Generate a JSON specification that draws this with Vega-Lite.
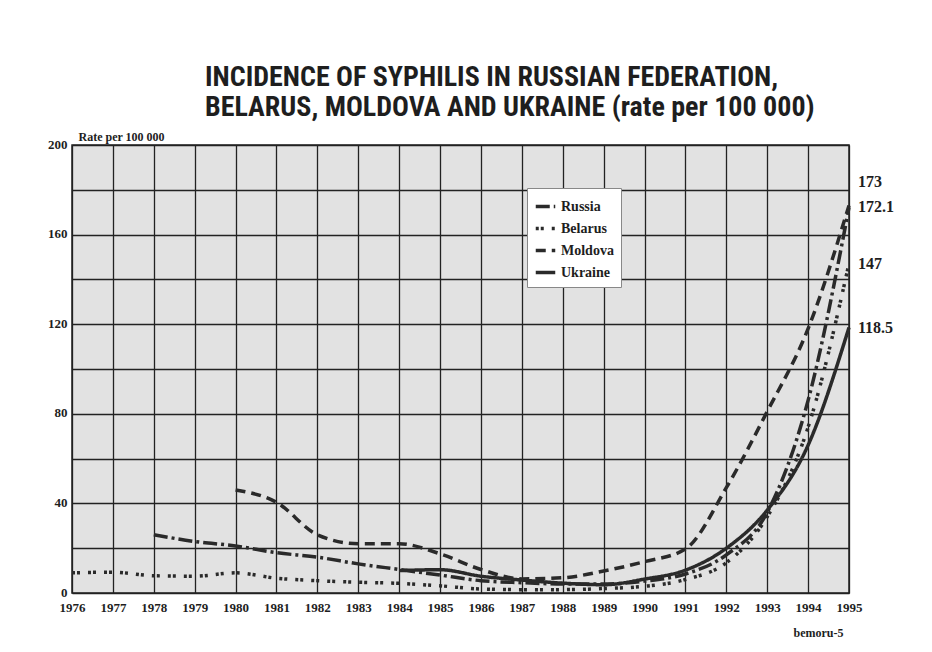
{
  "$schema": "https://vega.github.io/schema/vega-lite/v6.json",
  "width": 777,
  "height": 448,
  "autosize": {"type": "none"},
  "padding": {"left": 72, "top": 145, "right": 83, "bottom": 59},
  "background": "white",
  "title": {
    "text": ["INCIDENCE OF SYPHILIS IN RUSSIAN FEDERATION,", "BELARUS, MOLDOVA AND UKRAINE (rate per 100 000)"],
    "anchor": "start",
    "frame": "group",
    "dx": 133,
    "offset": 8,
    "font": "Roboto Condensed, DejaVu Sans Condensed, Roboto",
    "fontSize": 28,
    "fontWeight": "bold",
    "color": "#1e1e1e",
    "lineHeight": 30
  },
  "config": {
    "view": {"fill": "#e2e2e2", "stroke": "#222", "strokeWidth": 1.5}
  },
  "data": {
    "values": [
      {"year": 1978, "series": "Russia", "value": 26},
      {"year": 1979, "series": "Russia", "value": 23},
      {"year": 1980, "series": "Russia", "value": 21},
      {"year": 1981, "series": "Russia", "value": 18},
      {"year": 1982, "series": "Russia", "value": 16},
      {"year": 1983, "series": "Russia", "value": 13},
      {"year": 1984, "series": "Russia", "value": 10.5},
      {"year": 1985, "series": "Russia", "value": 8},
      {"year": 1986, "series": "Russia", "value": 5.5},
      {"year": 1987, "series": "Russia", "value": 4.6},
      {"year": 1988, "series": "Russia", "value": 4},
      {"year": 1989, "series": "Russia", "value": 4},
      {"year": 1990, "series": "Russia", "value": 5.3},
      {"year": 1991, "series": "Russia", "value": 8.5},
      {"year": 1992, "series": "Russia", "value": 17},
      {"year": 1993, "series": "Russia", "value": 36},
      {"year": 1994, "series": "Russia", "value": 86},
      {"year": 1995, "series": "Russia", "value": 172.1},
      {"year": 1976, "series": "Belarus", "value": 9},
      {"year": 1977, "series": "Belarus", "value": 9.3},
      {"year": 1978, "series": "Belarus", "value": 7.7},
      {"year": 1979, "series": "Belarus", "value": 7.5},
      {"year": 1980, "series": "Belarus", "value": 9},
      {"year": 1981, "series": "Belarus", "value": 6.6},
      {"year": 1982, "series": "Belarus", "value": 5.5},
      {"year": 1983, "series": "Belarus", "value": 4.8},
      {"year": 1984, "series": "Belarus", "value": 4.3},
      {"year": 1985, "series": "Belarus", "value": 3.2},
      {"year": 1986, "series": "Belarus", "value": 1.8},
      {"year": 1987, "series": "Belarus", "value": 1.5},
      {"year": 1988, "series": "Belarus", "value": 1.5},
      {"year": 1989, "series": "Belarus", "value": 2},
      {"year": 1990, "series": "Belarus", "value": 3},
      {"year": 1991, "series": "Belarus", "value": 6},
      {"year": 1992, "series": "Belarus", "value": 13.5},
      {"year": 1993, "series": "Belarus", "value": 34},
      {"year": 1994, "series": "Belarus", "value": 74},
      {"year": 1995, "series": "Belarus", "value": 147},
      {"year": 1980, "series": "Moldova", "value": 46},
      {"year": 1981, "series": "Moldova", "value": 40.5},
      {"year": 1982, "series": "Moldova", "value": 26},
      {"year": 1983, "series": "Moldova", "value": 22},
      {"year": 1984, "series": "Moldova", "value": 22},
      {"year": 1985, "series": "Moldova", "value": 17.5},
      {"year": 1986, "series": "Moldova", "value": 10.5},
      {"year": 1987, "series": "Moldova", "value": 6.3},
      {"year": 1988, "series": "Moldova", "value": 6.8},
      {"year": 1989, "series": "Moldova", "value": 9.8},
      {"year": 1990, "series": "Moldova", "value": 14},
      {"year": 1991, "series": "Moldova", "value": 19.6},
      {"year": 1992, "series": "Moldova", "value": 47},
      {"year": 1993, "series": "Moldova", "value": 81},
      {"year": 1994, "series": "Moldova", "value": 118},
      {"year": 1995, "series": "Moldova", "value": 173},
      {"year": 1984, "series": "Ukraine", "value": 10},
      {"year": 1985, "series": "Ukraine", "value": 10.4},
      {"year": 1986, "series": "Ukraine", "value": 7.5},
      {"year": 1987, "series": "Ukraine", "value": 5.8},
      {"year": 1988, "series": "Ukraine", "value": 4.4},
      {"year": 1989, "series": "Ukraine", "value": 3.7},
      {"year": 1990, "series": "Ukraine", "value": 6.2},
      {"year": 1991, "series": "Ukraine", "value": 10.2},
      {"year": 1992, "series": "Ukraine", "value": 20},
      {"year": 1993, "series": "Ukraine", "value": 37},
      {"year": 1994, "series": "Ukraine", "value": 66},
      {"year": 1995, "series": "Ukraine", "value": 118.5}
    ]
  },
  "encoding": {
    "x": {
      "field": "year",
      "type": "quantitative",
      "scale": {"domain": [1976, 1995], "nice": false, "zero": false},
      "axis": {
        "values": [1976, 1976.5, 1977, 1977.5, 1978, 1978.5, 1979, 1979.5, 1980, 1980.5, 1981, 1981.5, 1982, 1982.5, 1983, 1983.5, 1984, 1984.5, 1985, 1985.5, 1986, 1986.5, 1987, 1987.5, 1988, 1988.5, 1989, 1989.5, 1990, 1990.5, 1991, 1991.5, 1992, 1992.5, 1993, 1993.5, 1994, 1994.5, 1995],
        "format": "d",
        "labelExpr": "datum.value % 1 == 0 ? datum.label : ''",
        "grid": true,
        "gridColor": "#222",
        "gridWidth": 1.3,
        "gridOpacity": 1,
        "domain": false,
        "ticks": false,
        "labelFont": "Liberation Serif",
        "labelFontWeight": "bold",
        "labelFontSize": 13,
        "labelColor": "#1e1e1e",
        "labelPadding": 8,
        "labelFlush": false,
        "labelOverlap": false,
        "title": "bemoru-5",
        "titleFont": "Liberation Serif",
        "titleFontWeight": "bold",
        "titleFontSize": 12,
        "titleColor": "#1e1e1e",
        "titleAlign": "center",
        "titleBaseline": "middle",
        "titleAnchor": null,
        "titleX": 746,
        "titleY": 39
      }
    },
    "y": {
      "field": "value",
      "type": "quantitative",
      "scale": {"domain": [0, 200], "nice": false},
      "axis": {
        "values": [0, 20, 40, 60, 80, 100, 120, 140, 160, 180, 200],
        "labelExpr": "datum.value % 40 == 0 ? datum.label : ''",
        "grid": true,
        "gridColor": "#222",
        "gridWidth": 1.3,
        "gridOpacity": 1,
        "domain": false,
        "ticks": false,
        "labelFont": "Liberation Serif",
        "labelFontWeight": "bold",
        "labelFontSize": 13,
        "labelColor": "#1e1e1e",
        "labelPadding": 5,
        "labelOffset": -1,
        "labelOverlap": false,
        "title": "Rate per 100 000",
        "titleFont": "Liberation Serif",
        "titleFontWeight": "bold",
        "titleFontSize": 12,
        "titleColor": "#1e1e1e",
        "titleAngle": 0,
        "titleAlign": "left",
        "titleBaseline": "middle",
        "titleX": 6,
        "titleY": -9
      }
    }
  },
  "layer": [
    {
      "mark": {"type": "line", "interpolate": "monotone", "color": "#2a2a2a", "strokeWidth": 3.5},
      "encoding": {
        "strokeDash": {
          "field": "series",
          "type": "nominal",
          "scale": {
            "domain": ["Russia", "Belarus", "Moldova", "Ukraine"],
            "range": [[14, 4, 3, 4], [3, 2, 3, 8], [10, 6], [1, 0]]
          },
          "legend": {
            "title": null,
            "orient": "none",
            "legendX": 455,
            "legendY": 43,
            "fillColor": "white",
            "strokeColor": "#888",
            "padding": 7,
            "symbolType": "stroke",
            "symbolStrokeWidth": 3.5,
            "symbolStrokeColor": "#2a2a2a",
            "symbolSize": 380,
            "rowPadding": 3,
            "labelFont": "Liberation Serif",
            "labelFontWeight": "bold",
            "labelFontSize": 14,
            "labelColor": "#1e1e1e"
          }
        }
      }
    },
    {
      "transform": [{"filter": "datum.year == 1995 && datum.series != 'Moldova'"}],
      "mark": {"type": "text", "align": "left", "baseline": "middle", "dx": 9, "font": "Liberation Serif", "fontWeight": "bold", "fontSize": 16, "color": "#1e1e1e"},
      "encoding": {"text": {"field": "value", "type": "nominal"}}
    },
    {
      "transform": [{"filter": "datum.year == 1995 && datum.series == 'Moldova'"}],
      "mark": {"type": "text", "align": "left", "baseline": "middle", "dx": 9, "dy": -23, "font": "Liberation Serif", "fontWeight": "bold", "fontSize": 16, "color": "#1e1e1e"},
      "encoding": {"text": {"field": "value", "type": "nominal"}}
    }
  ]
}
